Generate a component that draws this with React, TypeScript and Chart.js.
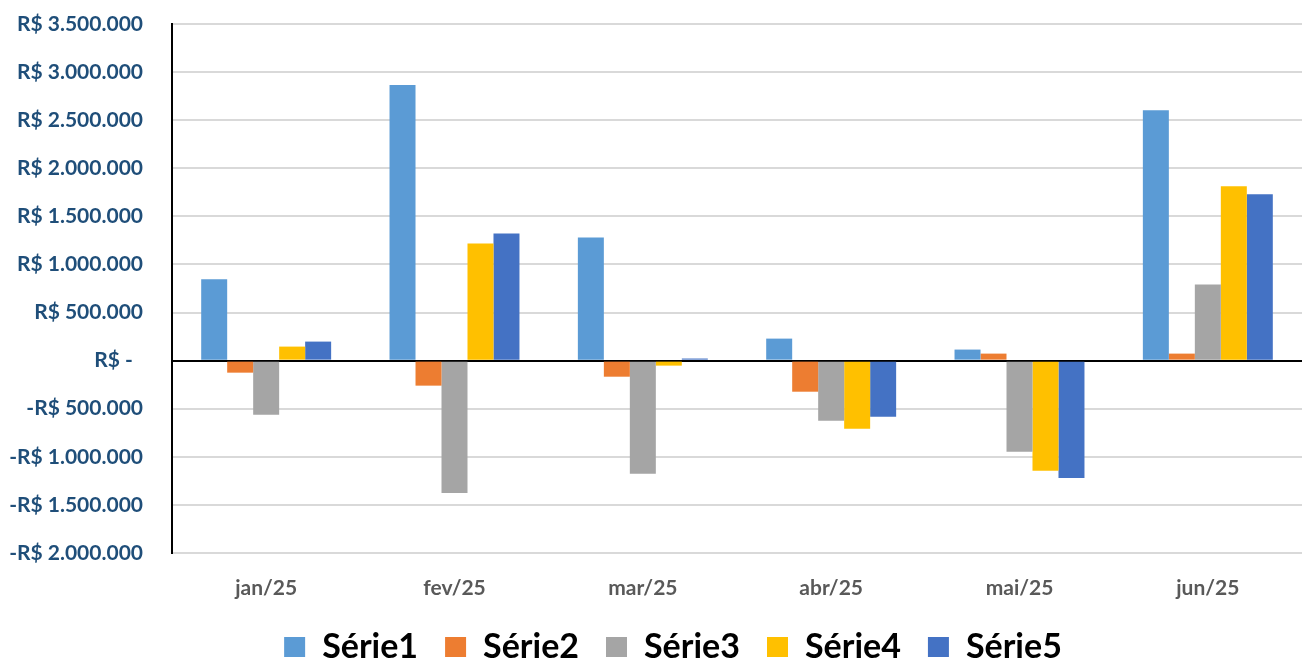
import React, { useEffect, useRef } from "react";
import { Chart, registerables } from "chart.js";

Chart.register(...registerables);

const categories = ["jan/25", "fev/25", "mar/25", "abr/25", "mai/25", "jun/25"];
const serie1 = [845000, 2865000, 1281000, 229000, 115000, 2604000];
const serie2 = [-125000, -260000, -167000, -323000, 73000, 73000];
const serie3 = [-562000, -1375000, -1177000, -625000, -948000, 792000];
const serie4 = [146000, 1219000, -52000, -708000, -1146000, 1813000];
const serie5 = [198000, 1323000, 22000, -583000, -1219000, 1729000];
const seriesNames = ["Série1", "Série2", "Série3", "Série4", "Série5"];
const seriesColors = ["#5B9BD5", "#ED7D31", "#A5A5A5", "#FFC000", "#4472C4"];

const yMin = -2000000;
const yMax = 3500000;
const yStep = 500000;

function fmt(v: number): string {
  if (v === 0) return "R$ -  ";
  const abs = Math.abs(v);
  const s = String(Math.round(abs)).replace(/\B(?=(\d{3})+(?!\d))/g, ".");
  return (v < 0 ? "-" : "") + "R$ " + s;
}

const legendShift = {
  id: "legendShift",
  afterLayout(chart: any) {
    if (chart.legend) {
      chart.legend.left += 22;
      chart.legend.right += 22;
    }
  },
};

export default function App() {
  const ref = useRef<HTMLCanvasElement | null>(null);
  useEffect(() => {
    if (!ref.current) return;
    const values = [serie1, serie2, serie3, serie4, serie5];
    const chart = new Chart(ref.current, {
      type: "bar",
      data: {
        labels: categories,
        datasets: values.map((d, i) => ({
          label: seriesNames[i],
          data: d,
          backgroundColor: seriesColors[i],
          borderWidth: 0,
          barPercentage: 1,
          categoryPercentage: 0.69,
        })),
      },
      plugins: [legendShift],
      options: {
        animation: false,
        responsive: false,
        maintainAspectRatio: false,
        layout: { padding: { top: 24, right: 0, left: 0, bottom: -16 } },
        plugins: {
          tooltip: { enabled: false },
          legend: {
            position: "bottom",
            labels: {
              color: "#000000",
              font: { family: "Lato", size: 34, weight: "bold" },
              boxWidth: 21,
              boxHeight: 20,
              padding: 27,
            },
          },
        },
        scales: {
          x: {
            grid: { display: false },
            border: { display: false },
            ticks: {
              color: "#595959",
              font: { family: "Lato", size: 21, weight: "bold" },
              padding: 15,
              maxRotation: 0,
            },
            afterFit: (s: any) => {
              s.height = 50;
            },
          },
          y: {
            min: yMin,
            max: yMax,
            border: { display: true, color: "#000000", width: 2 },
            grid: {
              drawTicks: false,
              color: (c: any) => (c.tick && c.tick.value === 0 ? "#000000" : "#D9D9D9"),
              lineWidth: 2,
            },
            ticks: {
              stepSize: yStep,
              color: "#1F4E79",
              font: { family: "Lato", size: 21, weight: "bold" },
              padding: 29,
              callback: (v: any) => fmt(Number(v)),
            },
            afterFit: (s: any) => {
              s.width = 172;
              s.paddingTop = 0;
              s.paddingBottom = 0;
            },
          },
        },
      },
    } as any);
    return () => chart.destroy();
  }, []);
  return (
    <div style={{ position: "absolute", left: 0, top: 0, width: 1302, height: 658, background: "#fff" }}>
      <canvas ref={ref} width={1302} height={658} style={{ width: 1302, height: 658 }} />
    </div>
  );
}
